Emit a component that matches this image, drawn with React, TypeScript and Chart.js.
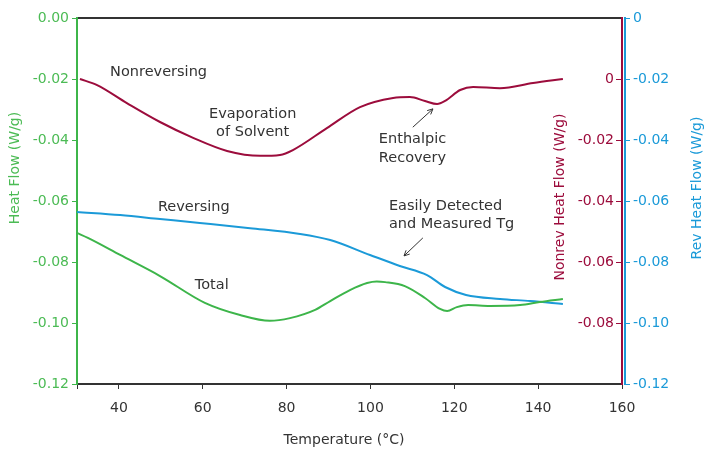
import React, { useEffect, useRef } from "react";
import { Chart, registerables } from "chart.js";

Chart.register(...registerables);

// ---- Data ----
const xTickValues = [30, 40, 60, 80, 100, 120, 140, 160];

const totalTemp = [30, 32.6, 40.3, 49.8, 60.5, 68.9, 76, 80.8, 86.8, 90.4, 95.1, 99.2, 101.5, 103.5, 108.2, 113, 116.6, 118.3, 120.6, 123.3, 128.5, 135.7, 140.4, 145.9];
const totalHeatFlow = [-0.0705, -0.0721, -0.0777, -0.0846, -0.0934, -0.0974, -0.0993, -0.0984, -0.0957, -0.0928, -0.0892, -0.0869, -0.0864, -0.0866, -0.0879, -0.0918, -0.0954, -0.0961, -0.0948, -0.0941, -0.0944, -0.0941, -0.0931, -0.0921];

const revTemp = [30, 40.3, 49.8, 59.3, 71.3, 83.2, 90.4, 99.9, 107, 113.5, 117.8, 122.8, 130.9, 138.1, 145.9];
const revHeatFlow = [-0.0636, -0.0646, -0.0659, -0.0672, -0.0689, -0.0708, -0.0728, -0.0777, -0.0813, -0.0843, -0.0882, -0.0908, -0.0921, -0.0928, -0.0938];

const nonrevTemp = [30.7, 34.8, 41.9, 49.8, 57.7, 65.8, 73.7, 78.4, 81.5, 89.6, 97.5, 105.4, 109.4, 113, 115.9, 117.8, 121.4, 124.5, 130.9, 138.8, 145.9];
const nonrevHeatFlow = [0.0, -0.002, -0.0079, -0.0141, -0.0193, -0.0236, -0.0252, -0.0249, -0.0233, -0.0161, -0.0092, -0.0062, -0.0059, -0.0072, -0.0082, -0.0072, -0.0036, -0.0026, -0.003, -0.0013, 0.0];

// Annotation texts (anchored in Temperature / Heat Flow data coordinates)
const annotationTexts = ["Nonreversing", "Evaporation", "of Solvent", "Enthalpic", "Recovery", "Easily Detected", "and Measured Tg", "Reversing", "Total"];
const annotationTemps = [37.9, 71.9, 71.9, 102.0, 102.0, 104.4, 104.4, 49.3, 58.1];
const annotationValues = [-0.0177, -0.0315, -0.0374, -0.0397, -0.0459, -0.0616, -0.0675, -0.062, -0.0875];
const annotationAligns = ["left", "center", "center", "left", "left", "left", "left", "left", "left"];

// Arrows: [fromT, fromV, toT, toV]
const arrowFromTemp = [110.1, 112.5];
const arrowFromValue = [-0.0358, -0.0721];
const arrowToTemp = [114.9, 108.0];
const arrowToValue = [-0.0298, -0.0780];

const GREEN = "#3db54a";
const GREEN_TEXT = "#4cbb55";
const RED = "#9c0c3c";
const BLUE = "#1b9ad8";
const DARK = "#333333";
const FONT = "'DejaVu Sans', sans-serif";

const fmt = (v: number, zeroLabel: string) => {
  if (Math.abs(v) < 1e-9) return zeroLabel;
  return v.toFixed(2);
};

const overlayPlugin = {
  id: "overlay",
  afterDraw(chart: any) {
    const { ctx, scales } = chart;
    const xs = scales.x;
    const ys = scales.y;
    ctx.save();
    // annotation texts
    ctx.font = `14.5px ${FONT}`;
    ctx.fillStyle = DARK;
    ctx.textBaseline = "middle";
    annotationTexts.forEach((t, i) => {
      ctx.textAlign = annotationAligns[i];
      ctx.fillText(t, xs.getPixelForValue(annotationTemps[i]), ys.getPixelForValue(annotationValues[i]));
    });
    // arrows
    ctx.strokeStyle = DARK;
    ctx.lineWidth = 1;
    arrowFromTemp.forEach((_, i) => {
      const x1 = xs.getPixelForValue(arrowFromTemp[i]);
      const y1 = ys.getPixelForValue(arrowFromValue[i]);
      const x2 = xs.getPixelForValue(arrowToTemp[i]);
      const y2 = ys.getPixelForValue(arrowToValue[i]);
      const a = Math.atan2(y2 - y1, x2 - x1);
      ctx.beginPath();
      ctx.moveTo(x1, y1);
      ctx.lineTo(x2, y2);
      ctx.stroke();
      ctx.beginPath();
      ctx.moveTo(x2 - 6 * Math.cos(a - 0.45), y2 - 6 * Math.sin(a - 0.45));
      ctx.lineTo(x2, y2);
      ctx.lineTo(x2 - 6 * Math.cos(a + 0.45), y2 - 6 * Math.sin(a + 0.45));
      ctx.stroke();
    });
    // axis titles
    const drawRot = (text: string, x: number, y: number, color: string) => {
      ctx.save();
      ctx.translate(x, y);
      ctx.rotate(-Math.PI / 2);
      ctx.textAlign = "center";
      ctx.textBaseline = "middle";
      ctx.fillStyle = color;
      ctx.font = `14px ${FONT}`;
      ctx.fillText(text, 0, 0);
      ctx.restore();
    };
    drawRot("Heat Flow (W/g)", 15, 168, GREEN_TEXT);
    drawRot("Nonrev Heat Flow (W/g)", 560, 197, RED);
    drawRot("Rev Heat Flow (W/g)", 697, 188, BLUE);
    ctx.font = `14px ${FONT}`;
    ctx.fillStyle = DARK;
    ctx.textAlign = "center";
    ctx.textBaseline = "middle";
    ctx.fillText("Temperature (°C)", 344, 440);
    ctx.restore();
  },
};

export default function App() {
  const ref = useRef<HTMLCanvasElement>(null);

  useEffect(() => {
    const canvas = ref.current;
    if (!canvas) return;
    const tickFont = { family: FONT, size: 14 };
    const chart = new Chart(canvas, {
      type: "line",
      data: {
        datasets: [
          {
            label: "Total",
            data: totalTemp.map((t, i) => ({ x: t, y: totalHeatFlow[i] })),
            borderColor: GREEN,
            borderWidth: 2,
            pointRadius: 0,
            cubicInterpolationMode: "monotone",
            yAxisID: "y",
          },
          {
            label: "Reversing",
            data: revTemp.map((t, i) => ({ x: t, y: revHeatFlow[i] })),
            borderColor: BLUE,
            borderWidth: 2,
            pointRadius: 0,
            cubicInterpolationMode: "monotone",
            yAxisID: "yRev",
          },
          {
            label: "Nonreversing",
            data: nonrevTemp.map((t, i) => ({ x: t, y: nonrevHeatFlow[i] })),
            borderColor: RED,
            borderWidth: 2,
            pointRadius: 0,
            cubicInterpolationMode: "monotone",
            yAxisID: "yNonrev",
          },
        ],
      },
      options: {
        animation: false,
        responsive: true,
        maintainAspectRatio: false,
        layout: { padding: { top: 18, left: 0, right: 0, bottom: 0 } },
        plugins: { legend: { display: false }, tooltip: { enabled: false } },
        scales: {
          x: {
            type: "linear",
            position: "bottom",
            min: 30,
            max: 160,
            afterBuildTicks: (s: any) => {
              s.ticks = xTickValues.map((v) => ({ value: v }));
            },
            ticks: {
              color: DARK,
              font: tickFont,
              padding: 11,
              maxRotation: 0,
              autoSkip: false,
              callback: (v: any) => (v === 30 ? "" : String(v)),
            },
            grid: { drawOnChartArea: false, drawTicks: true, tickLength: 5, color: DARK },
            border: { color: DARK, width: 2 },
            afterFit: (s: any) => {
              s.height = 65;
            },
          },
          xTop: {
            type: "linear",
            position: "top",
            min: 30,
            max: 160,
            ticks: { display: false },
            grid: { drawOnChartArea: false, drawTicks: false },
            border: { color: DARK, width: 2 },
            afterFit: (s: any) => {
              s.height = 0;
            },
          },
          y: {
            position: "left",
            min: -0.12,
            max: 0,
            ticks: {
              stepSize: 0.02,
              color: GREEN_TEXT,
              font: tickFont,
              padding: 3,
              callback: (v: any) => fmt(Number(v), "0.00"),
            },
            grid: { drawOnChartArea: false, tickLength: 5, color: GREEN },
            border: { color: GREEN, width: 2 },
            afterFit: (s: any) => {
              s.width = 77;
            },
          },
          yNonrev: {
            position: "right",
            min: -0.1,
            max: 0.02,
            afterBuildTicks: (s: any) => {
              s.ticks = s.ticks.filter((t: any) => t.value < 0.001 && t.value > -0.09);
            },
            ticks: {
              stepSize: 0.02,
              mirror: true,
              padding: -8,
              color: RED,
              font: tickFont,
              callback: (v: any) => fmt(Number(v), "0"),
            },
            grid: { drawOnChartArea: false, tickLength: -6, color: RED },
            border: { color: RED, width: 2 },
            afterFit: (s: any) => {
              s.width = 3;
            },
          },
          yRev: {
            position: "right",
            min: -0.12,
            max: 0,
            ticks: {
              stepSize: 0.02,
              color: BLUE,
              font: tickFont,
              padding: 3,
              callback: (v: any) => fmt(Number(v), "0"),
            },
            grid: { drawOnChartArea: false, tickLength: 5, color: BLUE },
            border: { color: BLUE, width: 2 },
            afterFit: (s: any) => {
              s.width = 80;
            },
          },
        },
      } as any,
      plugins: [overlayPlugin],
    });
    return () => chart.destroy();
  }, []);

  return (
    <div style={{ position: "fixed", left: 0, top: 0, width: 705, height: 449, background: "#fff" }}>
      <canvas ref={ref} />
    </div>
  );
}
